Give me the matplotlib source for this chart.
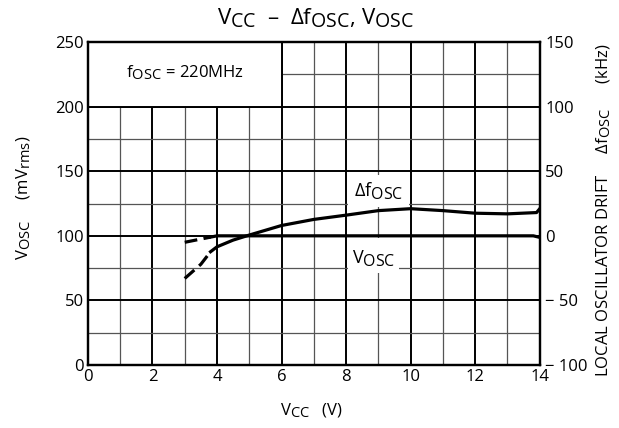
import matplotlib
matplotlib.use('Agg')
import matplotlib.pyplot as plt
import matplotlib._mathtext as mt
from matplotlib.patches import Rectangle

plt.rcParams['font.family'] = ['Open Sans', 'DejaVu Sans']
plt.rcParams['mathtext.fontset'] = 'custom'
plt.rcParams['mathtext.rm'] = 'Open Sans'
plt.rcParams['mathtext.it'] = 'DejaVu Sans:italic'
plt.rcParams['mathtext.default'] = 'rm'
mt.SHRINK_FACTOR = 0.88   # subscritos quase do tamanho do texto, como no original

# dados
vcc_df = [3.0, 3.5, 3.8, 4.0, 4.5, 5.0, 6.0, 7.0, 8.0, 9.0, 10.0, 11.0, 12.0, 13.0, 13.9, 14.0]
df_khz = [-33, -22, -12.3, -8.5, -3.3, 0.6, 8, 12.7, 16, 19.5, 21, 19.5, 17.5, 17, 18, 21]

vcc_v = [3.0, 3.8, 4.0, 13.8, 14.0]
vosc_mv = [95, 99, 100, 100, 98.8]

x_ticks = [0, 2, 4, 6, 8, 10, 12, 14]
y_ticks = [0, 50, 100, 150, 200, 250]
y2_ticks = [-100, -50, 0, 50, 100, 150]
y2_labels = ['\u2212 100', '\u2212 50', '0', '50', '100', '150']

DF = '$\\mathit{\u0394}\\mathregular{f_{OSC}}$'

fig = plt.figure(figsize=(6.19, 4.28), dpi=100)
ax = fig.add_axes([0.142, 0.147, 0.730, 0.755])
ax.set_xlim(0, 14)
ax.set_ylim(0, 250)

# grade
for x in range(1, 14):
    maior = x % 2 == 0
    ax.axvline(x, color='black' if maior else '#555555', lw=1.4 if maior else 0.9, zorder=1)
for y in range(25, 250, 25):
    maior = y % 50 == 0
    ax.axhline(y, color='black' if maior else '#555555', lw=1.4 if maior else 0.9, zorder=1)

# caixas brancas dos rótulos
ax.add_patch(Rectangle((0, 200), 6, 50, facecolor='white', edgecolor='none', zorder=2))
ax.add_patch(Rectangle((8.05, 122), 1.9, 25, facecolor='white', edgecolor='none', zorder=2))
ax.add_patch(Rectangle((8.05, 71), 1.6, 27, facecolor='white', edgecolor='none', zorder=2))
ax.plot([6, 6], [200, 250], color='black', lw=1.4, zorder=2)
ax.plot([0, 6], [200, 200], color='black', lw=1.4, zorder=2)

ax.text(3, 226, r'$\mathregular{f_{OSC}}$ = 220MHz', ha='center', va='center', fontsize=12, zorder=3)
ax.text(9, 135, DF, ha='center', va='center', fontsize=13, zorder=3)
ax.text(8.85, 83, r'$\mathregular{V_{OSC}}$', ha='center', va='center', fontsize=13, zorder=3)

# Vosc
ax.plot(vcc_v[:2], vosc_mv[:2], color='black', lw=2.3, linestyle=(0, (4, 2)), zorder=4)
ax.plot(vcc_v[1:], vosc_mv[1:], color='black', lw=2.3, zorder=4)

# delta f no eixo da direita
ax2 = ax.twinx()
ax2.set_ylim(-100, 150)
ax2.plot(vcc_df[:3], df_khz[:3], color='black', lw=2.3, linestyle=(0, (4, 2)), zorder=4)
ax2.plot(vcc_df[2:], df_khz[2:], color='black', lw=2.3, zorder=4)

for a in (ax, ax2):
    for s in a.spines.values():
        s.set_linewidth(1.6)
        s.set_zorder(5)

ax.set_xticks(x_ticks)
ax.set_yticks(y_ticks)
ax.tick_params(length=0, labelsize=12, pad=3)
ax2.set_yticks(y2_ticks)
ax2.set_yticklabels(y2_labels)
ax2.tick_params(length=0, labelsize=12, pad=4)

fig.text(0.51, 0.958, '$\\mathregular{V_{CC}}$  \u2013  ' + DF + ', $\\mathregular{V_{OSC}}$',
         ha='center', va='center', fontsize=16)
fig.text(0.503, 0.04, r'$\mathregular{V_{CC}}$   (V)', ha='center', va='center', fontsize=12)
fig.text(0.038, 0.537, r'$\mathregular{V_{OSC}}$     (mV$\mathregular{_{rms}}$)', ha='center', va='center',
         rotation=90, fontsize=12)
fig.text(0.975, 0.51, 'LOCAL OSCILLATOR DRIFT     ' + DF + '      (kHz)',
         ha='center', va='center', rotation=90, fontsize=12)

fig.savefig('out.png', dpi=100)
